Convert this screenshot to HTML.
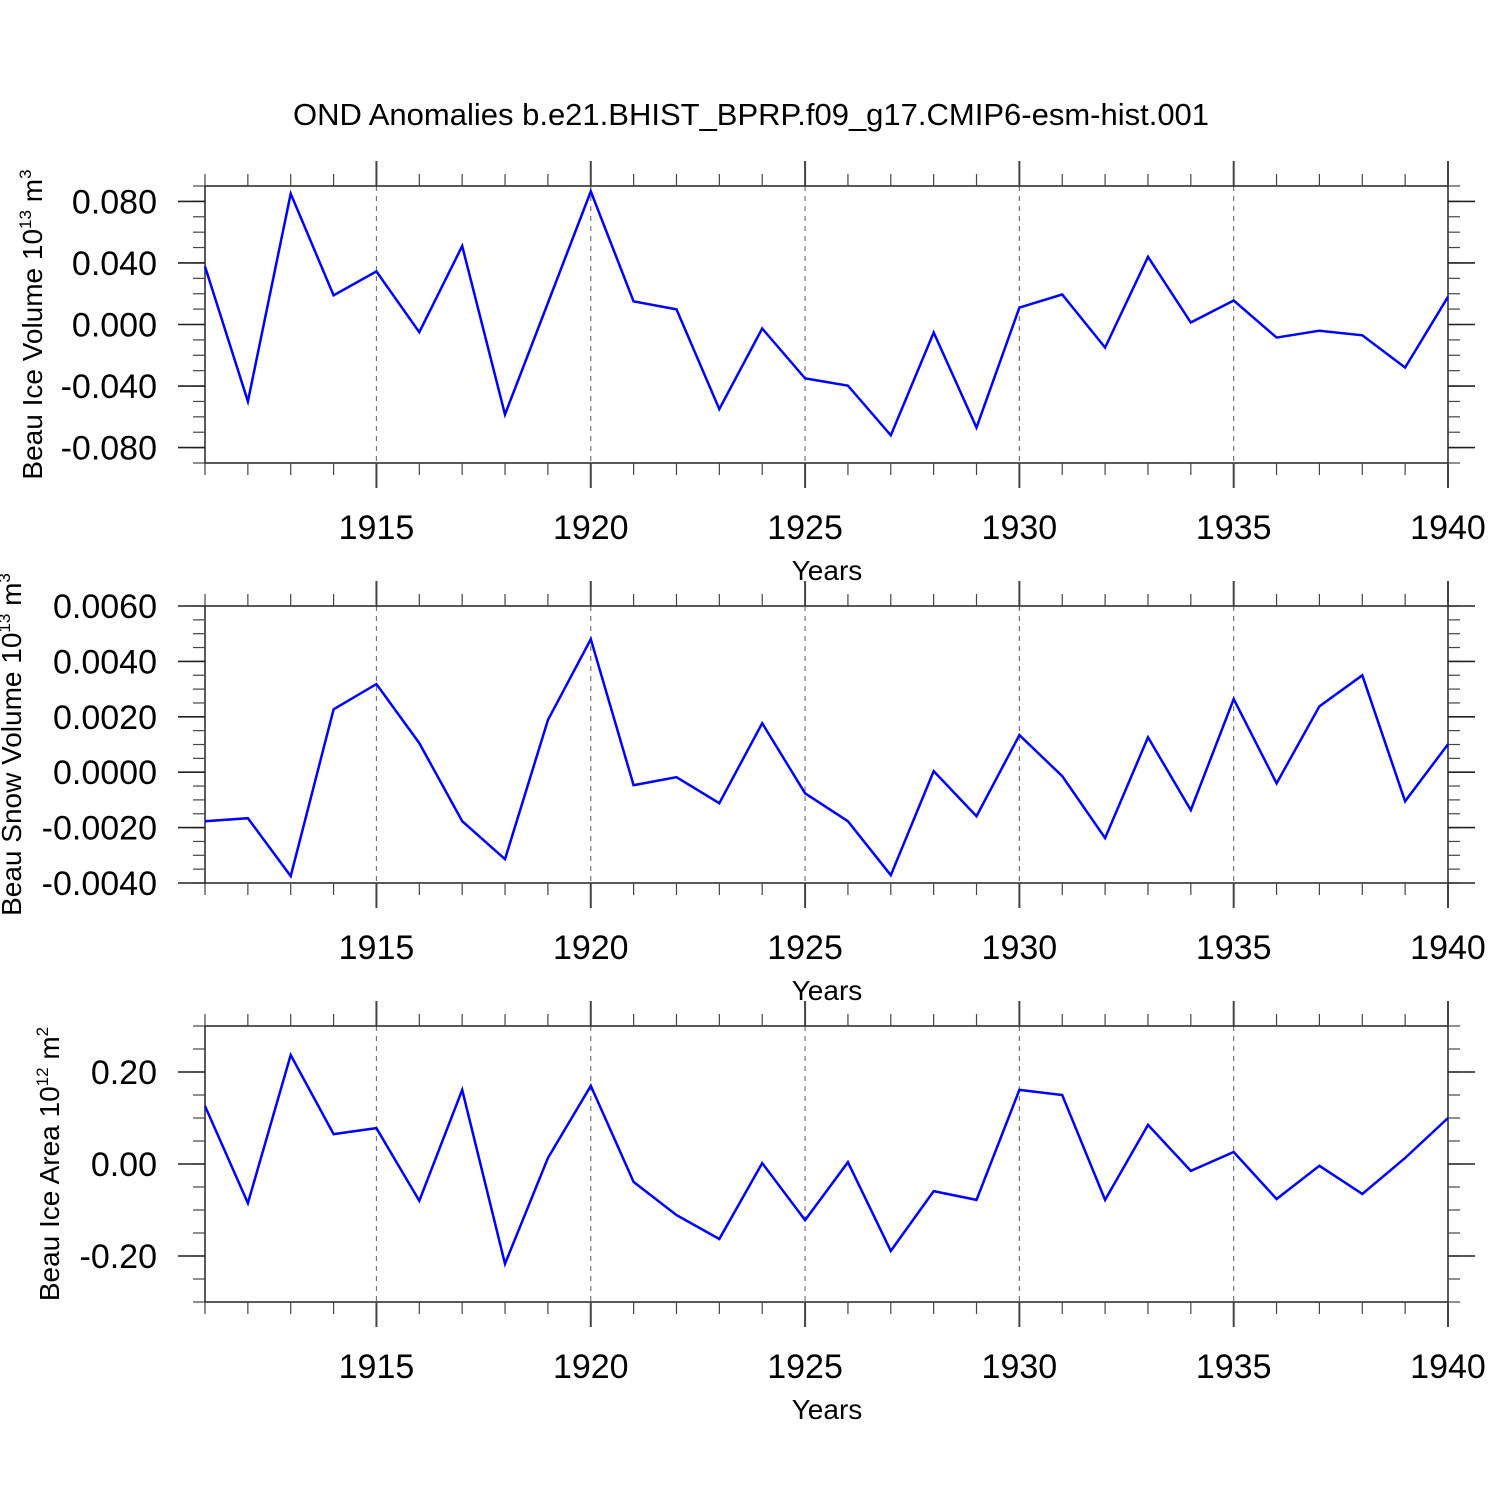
<!DOCTYPE html>
<html><head><meta charset="utf-8"><style>
html,body{margin:0;padding:0;background:#fff;}
svg{display:block;font-family:"Liberation Sans",sans-serif;}
</style></head><body>
<svg id="chart" width="1500" height="1500" viewBox="0 0 1500 1500" xmlns="http://www.w3.org/2000/svg">
<rect width="1500" height="1500" fill="#fff"/>
<text x="751" y="125" font-size="31" text-anchor="middle">OND Anomalies b.e21.BHIST_BPRP.f09_g17.CMIP6-esm-hist.001</text>
</svg>
<script>
const years = [1911,1912,1913,1914,1915,1916,1917,1918,1919,1920,1921,1922,1923,1924,1925,1926,1927,1928,1929,1930,1931,1932,1933,1934,1935,1936,1937,1938,1939,1940];
const iceVolume = [0.0377,-0.050,0.085,0.019,0.0345,-0.005,0.051,-0.0585,0.014,0.0865,0.015,0.0098,-0.055,-0.0026,-0.035,-0.0397,-0.072,-0.0052,-0.067,0.011,0.0195,-0.015,0.044,0.0013,0.0156,-0.0085,-0.004,-0.007,-0.028,0.018];
const snowVolume = [-0.00177,-0.00166,-0.00375,0.00227,0.00318,0.00105,-0.00177,-0.00314,0.00188,0.0048,-0.00047,-0.00018,-0.00112,0.00177,-0.00076,-0.00177,-0.00372,0.00004,-0.00159,0.00134,-0.00014,-0.00238,0.00126,-0.00137,0.00264,-0.0004,0.00238,0.0035,-0.00105,0.00101];
const iceArea = [0.126,-0.085,0.237,0.065,0.078,-0.080,0.161,-0.217,0.013,0.17,-0.039,-0.111,-0.163,0.002,-0.122,0.004,-0.189,-0.059,-0.078,0.161,0.15,-0.078,0.085,-0.015,0.026,-0.076,-0.004,-0.065,0.013,0.1];
const xTickLabels = ["1915","1920","1925","1930","1935","1940"];
const ice1Ticks = ["0.080","0.040","0.000","-0.040","-0.080"];
const snowTicks = ["0.0060","0.0040","0.0020","0.0000","-0.0020","-0.0040"];
const areaTicks = ["0.20","0.00","-0.20"];

const svg = document.getElementById('chart');
const NS = 'http://www.w3.org/2000/svg';
function mk(tag, attrs, parent){const e=document.createElementNS(NS,tag);for(const k in attrs)e.setAttribute(k,attrs[k]);(parent||svg).appendChild(e);return e;}

const X0=205,X1=1448;
const xs = y => X0+(y-1911)/(1940-1911)*(X1-X0);

function panel(cfg){
  const g=mk('g',{});
  
  
  const ys=v=>cfg.top+(cfg.max-v)/(cfg.max-cfg.min)*(cfg.bot-cfg.top);
  xTickLabels.forEach(l=>{const yr=+l; if(yr<1940){const x=xs(yr);
    const gl=mk('line',{x1:x,x2:x,y1:cfg.top,y2:cfg.bot,stroke:'#777','stroke-width':1.2,'stroke-dasharray':'5,5'},g);
    
    }});
  mk('rect',{x:X0,y:cfg.top,width:X1-X0,height:cfg.bot-cfg.top,fill:'none',stroke:'#222','stroke-width':1.5},g);
  for(let yr=1911;yr<=1940;yr++){const x=xs(yr);const major=(yr%5===0);const L=major?25:12;
    mk('line',{x1:x,x2:x,y1:cfg.top-L,y2:cfg.top,stroke:'#444','stroke-width':major?2:1.2},g);
    mk('line',{x1:x,x2:x,y1:cfg.bot,y2:cfg.bot+L,stroke:'#444','stroke-width':major?2:1.2},g);}
  xTickLabels.forEach(l=>{const t=mk('text',{x:xs(+l),y:cfg.bot+76,'font-size':34,'text-anchor':'middle'},g);t.textContent=l;
    
    });
  const xt=mk('text',{x:827,y:cfg.bot+117,'font-size':28,'text-anchor':'middle'},g);xt.textContent='Years';
  
  
  const n=Math.round((cfg.max-cfg.min)/cfg.minor);
  for(let i=0;i<=n;i++){const v=cfg.min+i*cfg.minor;const y=ys(v);
    mk('line',{x1:X0-12,x2:X0,y1:y,y2:y,stroke:'#444','stroke-width':1.2},g);
    mk('line',{x1:X1,x2:X1+12,y1:y,y2:y,stroke:'#444','stroke-width':1.2},g);}
  cfg.ticks.forEach(l=>{const y=ys(parseFloat(l));
    mk('line',{x1:X0-27,x2:X0,y1:y,y2:y,stroke:'#222','stroke-width':1.6},g);
    mk('line',{x1:X1,x2:X1+27,y1:y,y2:y,stroke:'#222','stroke-width':1.6},g);
    const t=mk('text',{x:157,y:y+12,'font-size':34,'text-anchor':'end'},g);t.textContent=l;
    
    });
  const cy=(cfg.top+cfg.bot)/2;
  const yt=mk('text',{x:cfg.tx,y:cy,'font-size':28,'text-anchor':'middle',transform:`rotate(-90 ${cfg.tx} ${cy})`},g);
  yt.innerHTML=cfg.title;
  
  
  const pts=years.map((yr,i)=>xs(yr).toFixed(1)+','+ys(cfg.data[i]).toFixed(1)).join(' ');
  const pl=mk('polyline',{points:pts,fill:'none',stroke:'#0000ff','stroke-width':2.5,'stroke-linejoin':'miter'},g);
  
  
}
panel({name:'ice-volume-panel',top:186,bot:463,max:0.09,min:-0.09,minor:0.01,ticks:ice1Ticks,data:iceVolume,tx:42,
  title:'Beau Ice Volume 10<tspan dy="-11" font-size="17">13</tspan><tspan dy="11"> m</tspan><tspan dy="-11" font-size="17">3</tspan>'});
panel({name:'snow-volume-panel',top:606,bot:883,max:0.006,min:-0.004,minor:0.0005,ticks:snowTicks,data:snowVolume,tx:21,
  title:'Beau Snow Volume 10<tspan dy="-11" font-size="17">13</tspan><tspan dy="11"> m</tspan><tspan dy="-11" font-size="17">3</tspan>'});
panel({name:'ice-area-panel',top:1026,bot:1302,max:0.3,min:-0.3,minor:0.05,ticks:areaTicks,data:iceArea,tx:59,
  title:'Beau Ice Area 10<tspan dy="-11" font-size="17">12</tspan><tspan dy="11"> m</tspan><tspan dy="-11" font-size="17">2</tspan>'});
</script>
</body></html>
